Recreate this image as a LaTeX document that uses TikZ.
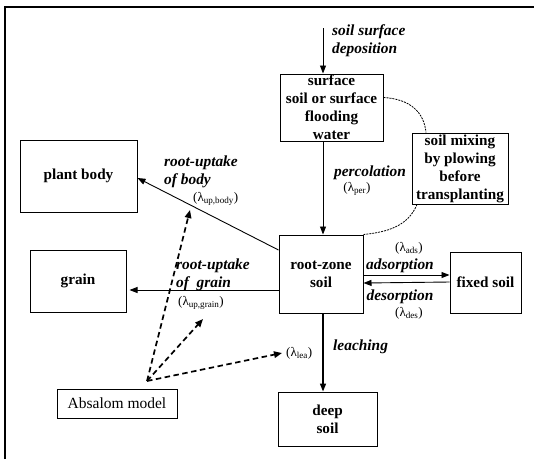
\documentclass[tikz,border=0pt]{standalone}
\usepackage{fontspec}
\setmainfont{Liberation Serif}
\usetikzlibrary{arrows.meta}
\newcommand\lamb[1]{(λ\textsubscript{#1})}
\tikzset{
  box/.style={draw, line width=1pt, align=center, inner sep=0pt,
    font=\bfseries\fontsize{15.2}{18}\selectfont},
  lbl/.style={inner sep=0pt, align=left, font=\bfseries\itshape\fontsize{15.4}{18}\selectfont},
  lam/.style={inner sep=0pt, font=\fontsize{13}{15}\selectfont},
  flow/.style={line width=0.9pt, -{Triangle[length=8pt,width=6pt]}},
  model/.style={line width=1.7pt, dash pattern=on 5.5pt off 3.5pt, -{Triangle[length=8pt,width=6.5pt]}},
  mix/.style={line width=0.8pt, dash pattern=on 2pt off 1pt}
}
\begin{document}
\begin{tikzpicture}[x=1pt,y=-1pt]
\useasboundingbox (0,0) rectangle (534,459);
\draw[line width=1.2pt] (5,459) -- (5,7) -- (534,7);

% boxes
\node[box, minimum width=103pt, minimum height=67pt] (surface) at (331.5,107.5)
  {surface\\soil or surface\\flooding\\water};
\node[box, minimum width=96pt, minimum height=71pt] (mixing) at (460,168.5)
  {soil mixing\\by plowing\\before\\transplanting};
\node[box, minimum width=84pt, minimum height=78pt] (rootzone) at (321,274)
  {root-zone\\soil};
\node[box, minimum width=71pt, minimum height=61pt] (fixed) at (485.5,282.5) {fixed soil};
\node[box, minimum width=99pt, minimum height=54pt] (deep) at (327.5,419) {deep\\soil};
\node[box, minimum width=117pt, minimum height=72pt] (plant) at (78.5,176) {plant body};
\node[box, minimum width=96pt, minimum height=62pt] (grain) at (78,281) {grain};
\node[box, font=\fontsize{15.5}{18}\selectfont, minimum width=120pt, minimum height=29pt] (absalom) at (117,403.5) {Absalom model};

% coordinates
\coordinate (dep) at (323,28);
\coordinate (abs) at (147,381);
\coordinate (tbody) at (190,210);
\coordinate (tgrain) at (203,319);
\coordinate (tlea) at (282,353);

% solid flows
\draw[flow] (dep) -- (dep |- surface.north);
\draw[flow] (surface.south -| dep) -- (rootzone.north -| dep);
\draw[flow, line width=1.5pt] (rootzone.south -| dep) -- (deep.north -| dep);
\draw[flow] ([yshift=24pt]rootzone.west) -- ([yshift=-2pt]plant.east);
\draw[flow] ([yshift=-16pt]rootzone.west) -- ([xshift=3pt,yshift=-9pt]grain.east);
\draw[flow] ([yshift=-1pt]rootzone.east) -- ([yshift=7.5pt]fixed.west);
\draw[flow] ([yshift=0.5pt]fixed.west) -- ([yshift=-9pt]rootzone.east);

% soil mixing curves
\draw[mix] ([yshift=10pt]surface.east) .. controls (410,99) and (424,112) .. ([xshift=-34pt]mixing.north);
\draw[mix] ([xshift=-43pt]mixing.south) .. controls (408,226) and (388,232) .. (rootzone.north east);

% model dashed arrows
\draw[model] (abs) -- (tbody);
\draw[model] (abs) -- (tgrain);
\draw[model] (abs) -- (tlea);

% labels
\node[lbl, anchor=west] (ldep) at (332,41) {soil surface\\deposition};
\node[lbl, anchor=center] (lperc) at (370,173) {percolation};
\node[lam, anchor=center] (lamper) at (357,189) {\lamb{per}};
\node[lbl, anchor=west] (lbody) at (164,172) {root-uptake\\of body};
\node[lam, anchor=west] (lambody) at (193,199) {\lamb{up,body}};
\node[lbl, anchor=west] (lgrain) at (176,275) {root-uptake\\of\ \ grain};
\node[lam, anchor=west] (lamgrain) at (178,303) {\lamb{up,grain}};
\node[lam, anchor=center] (lamads) at (409,248) {\lamb{ads}};
\node[lbl, anchor=center] (lads) at (400,266) {adsorption};
\node[lbl, anchor=center] (ldes) at (400,297) {desorption};
\node[lam, anchor=center] (lamdes) at (409,313) {\lamb{des}};
\node[lbl, anchor=west] (llea) at (333,347) {leaching};
\node[lam, anchor=west] (lamlea) at (286,353) {\lamb{lea}};
\end{tikzpicture}
\end{document}
